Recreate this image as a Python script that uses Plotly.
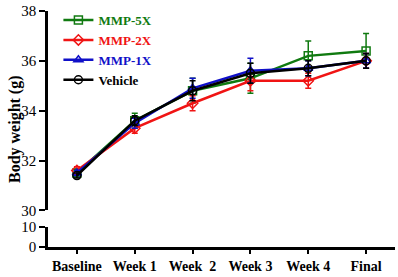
import plotly.graph_objects as go

categories = ["Baseline", "Week 1", "Week  2", "Week 3", "Week 4", "Final"]

mmp5x = [31.5, 33.6, 34.8, 35.3, 36.2, 36.4]
mmp5x_err = [0.15, 0.3, 0.5, 0.6, 0.6, 0.7]
mmp2x = [31.6, 33.3, 34.3, 35.2, 35.2, 36.0]
mmp2x_err = [0.15, 0.2, 0.3, 0.4, 0.3, 0.3]
mmp1x = [31.5, 33.5, 34.9, 35.6, 35.7, 36.0]
mmp1x_err = [0.1, 0.2, 0.4, 0.5, 0.3, 0.3]
vehicle = [31.4, 33.6, 34.8, 35.5, 35.7, 36.0]
vehicle_err = [0.1, 0.2, 0.4, 0.4, 0.3, 0.3]

y_title = "Body weight (g)"

series = [
    ("MMP-5X", mmp5x, mmp5x_err, "#107a10", "square-open"),
    ("MMP-2X", mmp2x, mmp2x_err, "#f01414", "diamond-open"),
    ("MMP-1X", mmp1x, mmp1x_err, "#1010c8", "triangle-up-open"),
    ("Vehicle", vehicle, vehicle_err, "#000000", "circle-open"),
]

fig = go.Figure()
for name, vals, errs, color, sym in series:
    fig.add_trace(go.Scatter(
        x=categories, y=vals, mode="lines+markers",
        name=f"<span style='color:{color}'><b>{name}</b></span>",
        line=dict(color=color, width=2.5),
        marker=dict(symbol=sym, size=8, color=color, line=dict(color=color, width=1.5)),
        error_y=dict(type="data", array=errs, color=color, thickness=1.5, width=3),
        xaxis="x", yaxis="y",
    ))

# dummy trace on lower axis to keep it active
fig.add_trace(go.Scatter(x=categories, y=[None]*len(categories), xaxis="x", yaxis="y2",
                         showlegend=False, hoverinfo="skip"))

tickfont = dict(family="Liberation Serif", size=15, color="black")
fig.update_layout(
    width=398, height=277,
    margin=dict(l=48, r=3, t=8, b=23),
    plot_bgcolor="white", paper_bgcolor="white",
    showlegend=True,
    legend=dict(x=0.03, y=1.025, xanchor="left", yanchor="top",
                font=dict(family="Liberation Serif", size=13),
                bgcolor="rgba(0,0,0,0)", itemwidth=30, tracegroupgap=0),
    xaxis=dict(
        type="category", range=[-0.5, 5.5], anchor="y2",
        showline=True, linecolor="black", linewidth=2.5,
        ticks="outside", ticklen=4, tickwidth=2, tickcolor="black",
        tickfont=dict(family="Liberation Serif", size=14, color="black", weight="bold"),
        showgrid=False, zeroline=False,
    ),
    yaxis=dict(
        domain=[0.155, 1.0], range=[30, 38], tickvals=[30, 32, 34, 36, 38],
        showline=True, linecolor="black", linewidth=2.5,
        ticks="outside", ticklen=6, tickwidth=2, tickcolor="black",
        tickfont=tickfont, showgrid=False, zeroline=False, anchor="x",
    ),
    yaxis2=dict(
        domain=[0.0, 0.0854], range=[0, 10], tickvals=[0, 10],
        showline=True, linecolor="black", linewidth=2.5,
        ticks="outside", ticklen=6, tickwidth=2, tickcolor="black",
        tickfont=tickfont, showgrid=False, zeroline=False, anchor="x",
    ),
    annotations=[dict(
        text=f"<b>{y_title}</b>", textangle=-90, showarrow=False,
        xref="paper", yref="paper", x=-0.095, y=0.5, xanchor="center", yanchor="middle",
        font=dict(family="Liberation Serif", size=16, color="black"),
    )],
)

fig.write_html("out.html",
               config={"displayModeBar": False},
               post_script="document.body.style.margin='0';document.body.style.overflow='hidden';")
